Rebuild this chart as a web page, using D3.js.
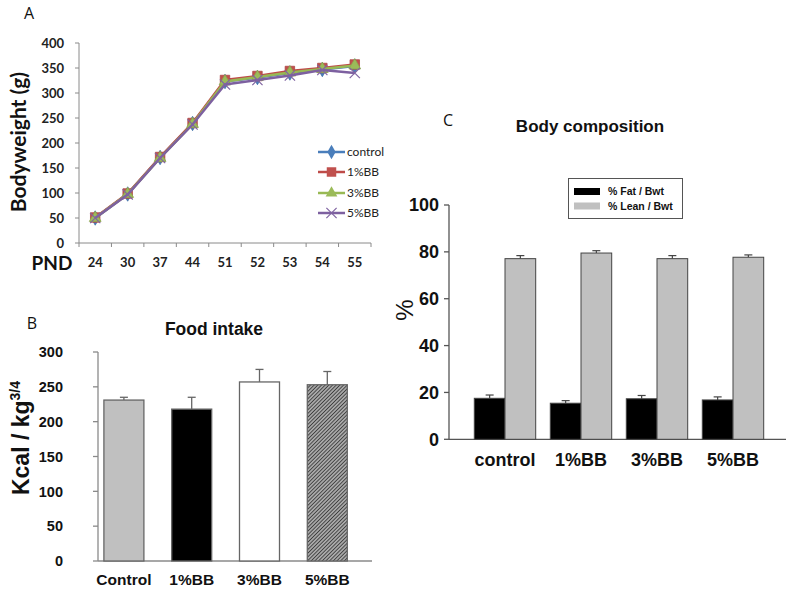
<!DOCTYPE html>
<html><head><meta charset="utf-8">
<script src="https://cdn.jsdelivr.net/npm/d3@7"></script>
<style>
body{margin:0;background:#fff;}
svg{display:block;}
</style></head>
<body><svg id="c" width="790" height="589"></svg>
<script>
// ---------- Panel A data ----------
const pndDays = ["24","30","37","44","51","52","53","54","55"];
const bwControl = [50, 98, 171, 239, 323, 331, 340, 347, 354];
const bw1BB     = [51, 99, 172, 240, 326, 334, 344, 350, 357];
const bw3BB     = [50, 98, 170, 238, 323, 332, 341, 348, 355];
const bw5BB     = [50, 97, 170, 237, 317, 326, 335, 346, 340];
const seriesNamesA = ["control","1%BB","3%BB","5%BB"];
const ticksA = [0,50,100,150,200,250,300,350,400];

// ---------- Panel B data ----------
const groupsB = ["Control","1%BB","3%BB","5%BB"];
const foodIntake = [231, 218, 257, 253];
const foodIntakeErr = [4, 17, 18, 19];
const ticksB = [0,50,100,150,200,250,300];

// ---------- Panel C data ----------
const groupsC = ["control","1%BB","3%BB","5%BB"];
const fatPct = [17.5, 15.4, 17.3, 16.8];
const fatErr = [1.4, 1.1, 1.4, 1.3];
const leanPct = [77.1, 79.5, 77.1, 77.7];
const leanErr = [1.3, 1.0, 1.3, 1.0];
const legendC = ["% Fat / Bwt","% Lean / Bwt"];
const ticksC = [0,20,40,60,80,100];

const svg = d3.select("#c");
const ARIAL = "'Liberation Sans', Arial, sans-serif";
const CAL = "Lato, 'Open Sans', sans-serif";
const PLAIN = "'Open Sans', 'DejaVu Sans', sans-serif";

// =================== Panel A ===================
(function(){
  const g = svg.append("g");
  const x = d3.scaleBand().domain(pndDays).range([79, 371]);
  const y = d3.scaleLinear().domain([0,400]).range([243, 43]);
  const axisCol = "#8a8a8a";
  g.append("line").attr("x1",79).attr("x2",79).attr("y1",y(0)).attr("y2",y(400)).attr("stroke",axisCol);
  ticksA.forEach(t=>{
    g.append("line").attr("x1",75).attr("x2",79).attr("y1",y(t)).attr("y2",y(t)).attr("stroke",axisCol);
    g.append("text").attr("x",64).attr("y",y(t)).attr("dy","0.35em").attr("text-anchor","end")
      .attr("font-family",CAL).attr("font-weight","bold").attr("font-size",13).attr("fill","#222").text(t);
  });
  g.append("line").attr("x1",79).attr("x2",371).attr("y1",y(0)).attr("y2",y(0)).attr("stroke",axisCol);
  pndDays.forEach((d,i)=>{
    const xs = x(d);
    g.append("line").attr("x1",xs).attr("x2",xs).attr("y1",y(0)).attr("y2",y(0)+4).attr("stroke",axisCol);
    g.append("text").attr("x",xs+x.bandwidth()/2).attr("y",262).attr("dy","0.35em").attr("text-anchor","middle")
      .attr("font-family",CAL).attr("font-weight","bold").attr("font-size",13).attr("fill","#222").text(d);
  });
  g.append("line").attr("x1",371).attr("x2",371).attr("y1",y(0)).attr("y2",y(0)+4).attr("stroke",axisCol);
  g.append("text").attr("x",52).attr("y",263).attr("dy","0.35em").attr("text-anchor","middle")
    .attr("font-family",CAL).attr("font-weight","bold").attr("font-size",19).attr("fill","#111").text("PND");
  g.append("text").attr("transform","translate(26,142) rotate(-90)").attr("text-anchor","middle")
    .attr("font-family",CAL).attr("font-weight","bold").attr("font-size",21).attr("fill","#111").text("Bodyweight (g)");
  g.append("text").attr("x",29).attr("y",13).attr("dy","0.35em").attr("text-anchor","middle")
    .attr("font-family",PLAIN).attr("font-size",16).attr("fill","#111").text("A");

  const all = [bwControl, bw1BB, bw3BB, bw5BB];
  const colors = ["#4a7ebb","#be4b48","#98b954","#7d60a0"];
  const fills = ["#4a7ebb","#c0504d","#9bbb59","#8064a2"];
  const symTimes = d3.symbolTimes || d3.symbolCross;
  const syms = [d3.symbolDiamond, d3.symbolSquare, d3.symbolTriangle, symTimes];
  const sizes = [60, 90, 60, 70];
  const line = d3.line().x((v,i)=>x(pndDays[i])+x.bandwidth()/2).y(v=>y(v));
  all.forEach((vals,k)=>{
    g.append("path").datum(vals).attr("d",line).attr("fill","none").attr("stroke",colors[k]).attr("stroke-width",2.5);
    vals.forEach((v,i)=>{
      const p = g.append("path").attr("d",d3.symbol().type(syms[k]).size(sizes[k])())
        .attr("transform",`translate(${x(pndDays[i])+x.bandwidth()/2},${y(v)})`);
      if(k===3) p.attr("fill","none").attr("stroke",fills[k]).attr("stroke-width",1.2);
      else p.attr("fill",fills[k]).attr("stroke",d3.color(fills[k]).darker(0.3)).attr("stroke-width",0.8);
    });
  });
  const ly = [152, 172, 193, 213];
  seriesNamesA.forEach((n,k)=>{
    g.append("line").attr("x1",318).attr("x2",345).attr("y1",ly[k]).attr("y2",ly[k]).attr("stroke",colors[k]).attr("stroke-width",2.5);
    const p = g.append("path").attr("d",d3.symbol().type(syms[k]).size(sizes[k])()).attr("transform",`translate(331.5,${ly[k]})`);
    if(k===3) p.attr("fill","none").attr("stroke",fills[k]).attr("stroke-width",1.2);
    else p.attr("fill",fills[k]);
    g.append("text").attr("x",347).attr("y",ly[k]).attr("dy","0.35em").attr("font-family",CAL)
      .attr("font-size",12).attr("fill","#222").text(n);
  });
})();

// =================== Panel B ===================
(function(){
  const g = svg.append("g");
  const defs = svg.append("defs");
  const pat = defs.append("pattern").attr("id","hatch").attr("patternUnits","userSpaceOnUse")
    .attr("width",2.6).attr("height",2.6).attr("patternTransform","rotate(45)");
  pat.append("rect").attr("width",2.6).attr("height",2.6).attr("fill","#a8a8a8");
  pat.append("line").attr("x1",0).attr("y1",0).attr("x2",0).attr("y2",2.6).attr("stroke","#2e2e2e").attr("stroke-width",1.5);

  const x = d3.scaleBand().domain(groupsB).range([90, 361.2]);
  const y = d3.scaleLinear().domain([0,300]).range([561, 352]);
  const axisCol = "#8a8a8a";
  g.append("line").attr("x1",98).attr("x2",98).attr("y1",y(0)).attr("y2",y(300)).attr("stroke",axisCol).attr("stroke-width",1.3);
  g.append("line").attr("x1",98).attr("x2",372).attr("y1",y(0)).attr("y2",y(0)).attr("stroke",axisCol).attr("stroke-width",1.3);
  ticksB.forEach(t=>{
    g.append("line").attr("x1",93).attr("x2",98).attr("y1",y(t)).attr("y2",y(t)).attr("stroke",axisCol).attr("stroke-width",1.3);
    g.append("text").attr("x",63).attr("y",y(t)).attr("dy","0.36em").attr("text-anchor","end")
      .attr("font-family",ARIAL).attr("font-weight","bold").attr("font-size",14.5).attr("fill","#111").text(t);
  });
  const fillsB = ["#c0c0c0","#000000","#ffffff","url(#hatch)"];
  groupsB.forEach((gname,i)=>{
    const cx = x(gname)+x.bandwidth()/2;
    const top = y(foodIntake[i]+foodIntakeErr[i]);
    g.append("line").attr("x1",cx).attr("x2",cx).attr("y1",y(foodIntake[i])).attr("y2",top).attr("stroke","#666").attr("stroke-width",1.3);
    g.append("line").attr("x1",cx-4).attr("x2",cx+4).attr("y1",top).attr("y2",top).attr("stroke","#666").attr("stroke-width",1.3);
    g.append("rect").attr("x",cx-20).attr("width",40).attr("y",y(foodIntake[i])).attr("height",y(0)-y(foodIntake[i]))
      .attr("fill",fillsB[i]).attr("stroke","#666").attr("stroke-width",1.3);
    g.append("text").attr("x",cx).attr("y",580).attr("dy","0.35em").attr("text-anchor","middle")
      .attr("font-family",ARIAL).attr("font-weight","bold").attr("font-size",15.5).attr("fill","#111").text(gname);
  });
  g.append("text").attr("x",214).attr("y",329).attr("dy","0.35em").attr("text-anchor","middle")
    .attr("font-family",ARIAL).attr("font-weight","bold").attr("font-size",17.5).attr("fill","#111").text("Food intake");
  const t = g.append("text").attr("transform","translate(29,438) rotate(-90)").attr("text-anchor","middle")
    .attr("font-family",ARIAL).attr("font-weight","bold").attr("font-size",23).attr("fill","#111");
  t.append("tspan").text("Kcal / kg");
  t.append("tspan").attr("dy",-9).attr("font-size",14).text("3/4");
  g.append("text").attr("x",32).attr("y",323).attr("dy","0.35em").attr("text-anchor","middle")
    .attr("font-family",PLAIN).attr("font-size",16).attr("fill","#111").text("B");
})();

// =================== Panel C ===================
(function(){
  const g = svg.append("g");
  const x = d3.scaleBand().domain(groupsC).range([467, 771]);
  const y = d3.scaleLinear().domain([0,100]).range([439.3, 205]);
  const axisCol = "#555";
  g.append("line").attr("x1",449).attr("x2",449).attr("y1",y(0)).attr("y2",y(100)).attr("stroke",axisCol).attr("stroke-width",1.3);
  g.append("line").attr("x1",449).attr("x2",786).attr("y1",y(0)).attr("y2",y(0)).attr("stroke",axisCol).attr("stroke-width",1.3);
  ticksC.forEach(t=>{
    g.append("line").attr("x1",444).attr("x2",449).attr("y1",y(t)).attr("y2",y(t)).attr("stroke",axisCol).attr("stroke-width",1.3);
    g.append("text").attr("x",439).attr("y",y(t)).attr("dy","0.36em").attr("text-anchor","end")
      .attr("font-family",ARIAL).attr("font-weight","bold").attr("font-size",18).attr("fill","#111").text(t);
  });
  const bw = 30.7;
  groupsC.forEach((gname,i)=>{
    const cx = x(gname)+x.bandwidth()/2;
    [[fatPct[i],fatErr[i],cx-bw,"#000"],[leanPct[i],leanErr[i],cx,"#c0c0c0"]].forEach(([v,e,x0,col])=>{
      const mx = x0+bw/2, top = y(v+e);
      g.append("line").attr("x1",mx).attr("x2",mx).attr("y1",y(v)).attr("y2",top).attr("stroke","#444").attr("stroke-width",1.2);
      g.append("line").attr("x1",mx-4).attr("x2",mx+4).attr("y1",top).attr("y2",top).attr("stroke","#444").attr("stroke-width",1.2);
      g.append("rect").attr("x",x0).attr("width",bw).attr("y",y(v)).attr("height",y(0)-y(v))
        .attr("fill",col).attr("stroke","#444").attr("stroke-width",1);
    });
    g.append("text").attr("x",cx).attr("y",460).attr("dy","0.35em").attr("text-anchor","middle")
      .attr("font-family",ARIAL).attr("font-weight","bold").attr("font-size",18).attr("fill","#111").text(gname);
  });
  g.append("rect").attr("x",568.5).attr("y",178.5).attr("width",114).attr("height",40).attr("fill","#fff").attr("stroke","#555").attr("stroke-width",1);
  const lcol = ["#000","#c0c0c0"], lyy = [191.5, 206];
  legendC.forEach((n,k)=>{
    g.append("rect").attr("x",574).attr("y",lyy[k]-3.5).attr("width",26).attr("height",7).attr("fill",lcol[k]);
    g.append("text").attr("x",608).attr("y",lyy[k]).attr("dy","0.35em").attr("font-family",ARIAL)
      .attr("font-weight","bold").attr("font-size",10.5).attr("fill","#111").text(n);
  });
  g.append("text").attr("x",590).attr("y",126).attr("dy","0.35em").attr("text-anchor","middle")
    .attr("font-family",ARIAL).attr("font-weight","bold").attr("font-size",17).attr("fill","#111").text("Body composition");
  g.append("text").attr("transform","translate(413,310) rotate(-90)").attr("text-anchor","middle")
    .attr("font-family",ARIAL).attr("font-size",24).attr("fill","#111").text("%");
  g.append("text").attr("x",448).attr("y",120).attr("dy","0.35em").attr("text-anchor","middle")
    .attr("font-family",PLAIN).attr("font-size",16).attr("fill","#111").text("C");
})();
</script></body></html>
